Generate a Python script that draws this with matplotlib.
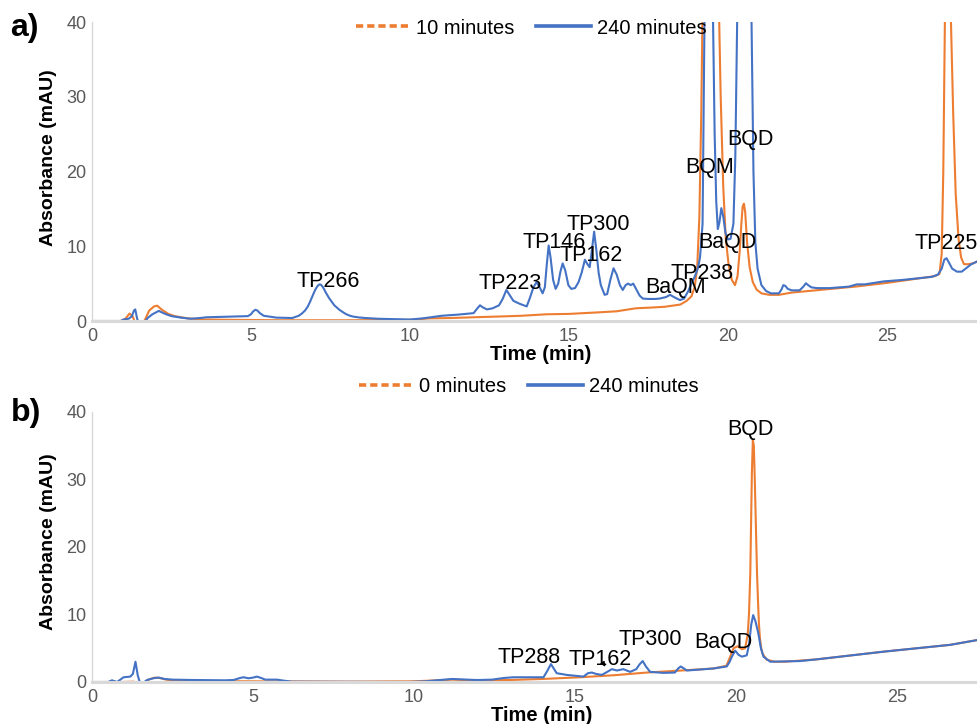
import matplotlib
matplotlib.use("Agg")
import matplotlib.pyplot as plt
from matplotlib.lines import Line2D

plt.rcParams['font.family'] = ['Liberation Sans', 'DejaVu Sans']

ORANGE = '#ED7D31'
BLUE = '#4472C4'
GREY = '#595959'
SPINE = '#d9d9d9'

# ---------------- Panel a data ----------------
a_orange_t = [0.0, 0.9, 1.05, 1.18, 1.28, 1.38, 1.55, 1.68, 1.8, 1.95, 2.05, 2.2, 2.4, 2.6, 3.0, 3.5,
              4.5, 6.0, 8.0, 10.0, 10.6, 11.3, 12.0, 12.8, 13.5, 14.3, 15.0, 15.9, 16.5, 17.1, 17.6,
              18.0, 18.5, 18.7, 18.85, 18.95, 19.03, 19.1, 19.16, 19.21, 19.3, 19.45, 19.6, 19.7,
              19.77, 19.85, 19.93, 20.02, 20.12, 20.22, 20.3, 20.37, 20.42, 20.46, 20.5, 20.54, 20.6,
              20.68, 20.78, 20.9, 21.05, 21.3, 21.6, 22.0, 23.0, 24.0, 25.0, 25.5, 26.0, 26.5,
              26.65, 26.72, 26.77, 26.82, 26.87, 26.93, 27.0, 27.08, 27.16, 27.25, 27.33, 27.42,
              27.55, 27.7, 27.83]
a_orange_v = [0.0, 0.0, 0.3, 1.0, 0.6, -0.5, -0.8, 0.3, 1.4, 1.95, 2.05, 1.5, 0.95, 0.65, 0.35, 0.2,
              0.15, 0.1, 0.1, 0.15, 0.35, 0.4, 0.5, 0.6, 0.7, 0.9, 0.95, 1.15, 1.3, 1.7, 1.8,
              1.9, 2.2, 2.7, 3.3, 4.5, 7.0, 14.0, 28.0, 45.0, 80.0, 100.0, 70.0, 45.0,
              30.0, 18.0, 11.0, 7.5, 5.5, 4.8, 6.0, 9.5, 13.0, 15.3, 15.7, 14.6, 10.5,
              7.2, 5.2, 4.2, 3.7, 3.5, 3.5, 3.8, 4.2, 4.6, 5.1, 5.4, 5.7, 6.0,
              6.3, 9.0, 20.0, 40.0, 55.0, 55.0, 42.0, 28.0, 17.0, 11.0, 8.5, 7.6,
              7.6, 7.7, 7.95]

a_blue_t = [0.0, 0.9, 1.0, 1.15, 1.25, 1.32, 1.36, 1.42, 1.5, 1.62, 1.75, 1.9, 2.1, 2.3, 2.5, 2.8,
            3.1, 3.4, 3.6, 4.0, 4.4, 4.9, 5.0, 5.07, 5.14, 5.2, 5.28, 5.4, 5.8, 6.3, 6.5, 6.6, 6.7,
            6.78, 6.85, 6.91, 6.97, 7.03, 7.08, 7.12, 7.16, 7.2, 7.25, 7.3, 7.34, 7.4, 7.45, 7.5,
            7.55, 7.62, 7.7, 7.78, 7.85, 7.92, 8.0, 8.1, 8.2, 8.4, 8.6, 9.0, 10.0, 10.4, 11.0,
            11.5, 12.0, 12.1, 12.2, 12.3, 12.42, 12.6, 12.8, 12.92, 13.03, 13.13, 13.25, 13.45,
            13.67, 13.78, 13.88, 13.98, 14.08, 14.17, 14.24, 14.3, 14.36, 14.42, 14.5, 14.58,
            14.66, 14.73, 14.8, 14.88, 14.98, 15.07, 15.19, 15.3, 15.4, 15.5, 15.58, 15.65, 15.72,
            15.79, 15.86, 15.93, 16.0, 16.12, 16.2, 16.3, 16.4, 16.5, 16.6, 16.69, 16.78, 16.86,
            16.94, 17.02, 17.12, 17.22, 17.32, 17.5, 17.7, 17.85, 18.05, 18.18, 18.3, 18.49,
            18.62, 18.75, 18.85, 18.95, 19.05, 19.12, 19.2, 19.26, 19.4, 19.53, 19.58, 19.63,
            19.68, 19.73, 19.79, 19.85, 19.92, 20.0, 20.08, 20.17, 20.23, 20.29, 20.4,
            20.55, 20.68, 20.74, 20.8, 20.86, 20.93, 21.05, 21.2, 21.35, 21.6, 21.68, 21.74, 21.8,
            21.88, 22.0, 22.25, 22.37, 22.45, 22.52, 22.62, 22.8, 23.2, 23.8, 24.05, 24.3, 24.9,
            25.5, 25.95, 26.4, 26.6, 26.72, 26.8, 26.87, 26.95, 27.05, 27.2, 27.35, 27.5, 27.65,
            27.83]
a_blue_v = [0.0, 0.0, 0.2, 0.3, 0.6, 1.4, 1.55, 0.3, -0.6, -0.4, 0.4, 0.9, 1.35, 0.95, 0.65, 0.45,
            0.3, 0.4, 0.5, 0.55, 0.6, 0.65, 0.9, 1.3, 1.5, 1.4, 1.05, 0.7, 0.45, 0.4, 0.7, 1.0, 1.4,
            1.9, 2.5, 3.1, 3.7, 4.25, 4.6, 4.8, 4.9, 4.85, 4.6, 4.25, 3.9, 3.45, 3.1, 2.8,
            2.5, 2.1, 1.8, 1.5, 1.3, 1.1, 0.9, 0.72, 0.6, 0.47, 0.4, 0.3, 0.2, 0.35, 0.7,
            0.85, 1.05, 1.6, 2.1, 1.8, 1.55, 1.7, 2.1, 3.0, 4.15, 3.5, 2.7, 2.3,
            1.95, 3.2, 4.5, 5.2, 4.5, 3.7, 4.5, 7.5, 10.1, 8.5, 5.5, 4.3,
            5.0, 6.6, 7.7, 6.8, 4.8, 4.3, 4.4, 5.2, 6.5, 8.2, 7.6, 7.2, 9.5,
            11.95, 9.5, 6.5, 4.8, 3.5, 3.6, 5.5, 7.05, 6.2, 4.8, 4.15, 4.8, 5.0,
            4.8, 5.0, 4.2, 3.4, 3.0, 2.95, 2.95, 3.0, 3.2, 3.5, 3.2, 2.8,
            3.0, 4.0, 5.0, 5.9, 7.0, 8.5, 13.0, 40.0, 70.0, 40.0, 25.0, 16.0,
            12.3, 13.2, 15.1, 14.0, 11.8, 10.9, 11.0, 13.0, 22.0, 40.0, 85.0,
            100.0, 60.0, 40.0, 20.0, 10.5, 7.0, 4.8, 4.0, 3.7, 3.7, 4.2, 4.8, 4.7,
            4.3, 4.1, 4.1, 4.6, 5.05, 4.8, 4.5, 4.4, 4.4, 4.6, 4.9, 4.9, 5.3,
            5.5, 5.7, 5.9, 6.2, 7.0, 8.2, 8.4, 7.8, 7.0, 6.6, 6.6, 7.1, 7.6,
            7.95]

a_labels = ['TP266', 'TP223', 'TP146', 'TP162', 'TP300', 'BaQM', 'TP238', 'BaQD', 'BQM', 'BQD']
a_label_t = [7.42, 13.14, 14.53, 15.69, 15.91, 18.36, 19.18, 19.97, 19.43, 20.72]
a_label_v = [4.55, 4.28, 9.77, 8.03, 12.18, 3.75, 5.62, 9.77, 19.81, 23.56]

# ---------------- Panel b data ----------------
b_orange_t = [0.0, 0.9, 1.3, 1.45, 1.6, 1.75, 1.95, 2.1, 2.3, 2.6, 3.0, 5.0, 8.0, 10.0, 11.2, 12.0,
              13.0, 14.0, 15.16, 16.2, 17.23, 18.3, 19.3, 19.7, 19.82, 19.92, 20.05, 20.18, 20.28,
              20.36, 20.4, 20.44, 20.47, 20.49, 20.52, 20.55, 20.58, 20.62, 20.65, 20.68, 20.71,
              20.74, 20.78, 20.82, 20.95, 21.2, 21.5, 22.5, 24.6, 26.65, 27.48]
b_orange_v = [0.0, 0.0, 0.05, -0.3, -0.2, 0.35, 0.65, 0.6, 0.35, 0.2, 0.15, 0.1, 0.05, 0.1, 0.35, 0.2,
              0.3, 0.45, 0.7, 1.0, 1.4, 1.7, 2.0, 2.4, 3.8, 5.0, 5.3, 4.85, 5.0,
              7.0, 10.0, 16.0, 25.0, 31.0, 35.8, 35.0, 30.0, 22.0, 16.0, 12.0, 8.5,
              6.5, 5.0, 4.2, 3.3, 3.0, 3.0, 3.35, 4.5, 5.5, 6.2]

b_blue_t = [0.0, 0.5, 0.62, 0.78, 0.98, 1.19, 1.27, 1.35, 1.42, 1.5, 1.6, 1.71, 1.9, 2.07, 2.25, 2.5,
            3.1, 4.14, 4.4, 4.6, 4.71, 4.86, 5.0, 5.12, 5.25, 5.38, 5.75, 5.95, 6.21, 9.83, 10.35,
            11.18, 11.9, 12.05, 12.42, 12.8, 13.08, 14.02, 14.12, 14.25, 14.35, 14.43, 14.74,
            15.26, 15.4, 15.52, 15.65, 15.83, 16.0, 16.14, 16.3, 16.5, 16.71, 16.9, 17.0, 17.1,
            17.2, 17.33, 17.74, 18.1, 18.2, 18.28, 18.38, 18.47, 19.3, 19.71, 19.8, 19.87, 19.97,
            20.08, 20.18, 20.33, 20.4, 20.47, 20.53, 20.6, 20.69, 20.77, 20.85, 21.06, 21.99,
            22.5, 24.6, 26.65, 27.48]
b_blue_v = [0.0, 0.0, 0.25, 0.0, 0.7, 0.8, 1.2, 3.0, 1.0, -0.3, -0.1, 0.3, 0.55, 0.65, 0.45, 0.35,
            0.3, 0.25, 0.3, 0.6, 0.7, 0.55, 0.65, 0.8, 0.6, 0.35, 0.35, 0.2, 0.05, 0.0, 0.1,
            0.45, 0.3, 0.3, 0.35, 0.6, 0.7, 0.7, 1.5, 2.65, 1.9, 1.3, 1.05,
            0.8, 1.3, 1.4, 1.2, 1.05, 1.5, 1.9, 1.7, 1.9, 1.5, 1.9, 2.6, 3.1,
            2.3, 1.5, 1.35, 1.4, 2.0, 2.3, 2.0, 1.7, 2.0, 2.3, 3.0, 3.75, 4.65,
            4.0, 3.75, 3.95, 5.5, 8.5, 9.9, 9.0, 7.2, 5.0, 3.75, 3.0, 3.1,
            3.35, 4.5, 5.5, 6.2]

b_labels = ['BQD', 'TP300', 'BaQD', 'TP288', 'TP162']
b_label_t = [20.43, 17.33, 19.6, 13.57, 15.78]
b_label_v = [36.54, 5.47, 5.03, 2.81, 2.51]

y_ticks = [0, 10, 20, 30, 40]
x_ticks = [0, 5, 10, 15, 20, 25]

# ---------------- Figure ----------------
fig = plt.figure(figsize=(9.77, 7.24), dpi=100)
ax_a = fig.add_axes([92 / 977, 1 - 321 / 724, 885 / 977, 299 / 724])
ax_b = fig.add_axes([92 / 977, 1 - 682 / 724, 885 / 977, 270.3 / 724])


def style(ax, xmax):
    ax.set_xlim(0, xmax)
    ax.set_ylim(0, 40)
    ax.set_xticks(x_ticks)
    ax.set_yticks(y_ticks)
    ax.tick_params(length=0, labelsize=13, colors=GREY)
    ax.tick_params(axis='x', pad=5)
    ax.tick_params(axis='y', pad=4)
    for s in ['top', 'right']:
        ax.spines[s].set_visible(False)
    ax.spines['left'].set_color(SPINE)
    ax.spines['left'].set_linewidth(1.0)
    ax.spines['bottom'].set_color(SPINE)
    ax.spines['bottom'].set_linewidth(2.2)
    ax.set_ylabel('Absorbance (mAU)', fontsize=14, fontweight='bold')
    ax.set_xlabel('Time (min)', fontsize=14.5, fontweight='bold')


ax_a.plot(a_orange_t, a_orange_v, color=ORANGE, lw=1.5)
ax_a.plot(a_blue_t, a_blue_v, color=BLUE, lw=1.5)
style(ax_a, 27.83)
ax_a.yaxis.set_label_coords(-0.0395, 0.545)
ax_a.xaxis.set_label_coords(0.507, -0.080)
for lab, t, v in zip(a_labels, a_label_t, a_label_v):
    ax_a.text(t, v, lab, ha='center', va='baseline', fontsize=15.5, color='black')
ax_a.text(25.88, 9.64, 'TP225', ha='left', va='baseline', fontsize=15.5, color='black', clip_on=False)

ax_b.plot(b_orange_t, b_orange_v, color=ORANGE, lw=1.5)
ax_b.plot(b_blue_t, b_blue_v, color=BLUE, lw=1.5)
style(ax_b, 27.48)
ax_b.yaxis.set_label_coords(-0.0395, 0.518)
ax_b.xaxis.set_label_coords(0.508, -0.09)
for lab, t, v in zip(b_labels, b_label_t, b_label_v):
    ax_b.text(t, v, lab, ha='center', va='baseline', fontsize=15.5, color='black')
ax_b.annotate('', xy=(15.99, 1.92), xytext=(15.85, 2.9),
              arrowprops=dict(arrowstyle='-|>', color='black', lw=0.8, mutation_scale=7))

dash = (0, (2.0, 1.1))
h_or = Line2D([], [], color=ORANGE, lw=2.6, linestyle=dash)
h_bl = Line2D([], [], color=BLUE, lw=2.6)
leg_kw = dict(loc='center', ncol=2, frameon=False, fontsize=14.5, handlelength=2.7,
              handletextpad=0.3, columnspacing=1.1, borderpad=0, borderaxespad=0)
fig.legend([h_or, h_bl], ['10 minutes', '240 minutes'], bbox_to_anchor=(531 / 977, 1 - 28 / 724), **leg_kw)
fig.legend([h_or, h_bl], ['0 minutes', '240 minutes'], bbox_to_anchor=(528.5 / 977, 1 - 387 / 724), **leg_kw)

fig.text(10 / 977, 1 - 28 / 724, 'a)', fontsize=23, fontweight='bold', ha='left', va='center')
fig.text(11 / 977, 1 - 413 / 724, 'b)', fontsize=23, fontweight='bold', ha='left', va='center')

fig.savefig('out.png', dpi=100)
